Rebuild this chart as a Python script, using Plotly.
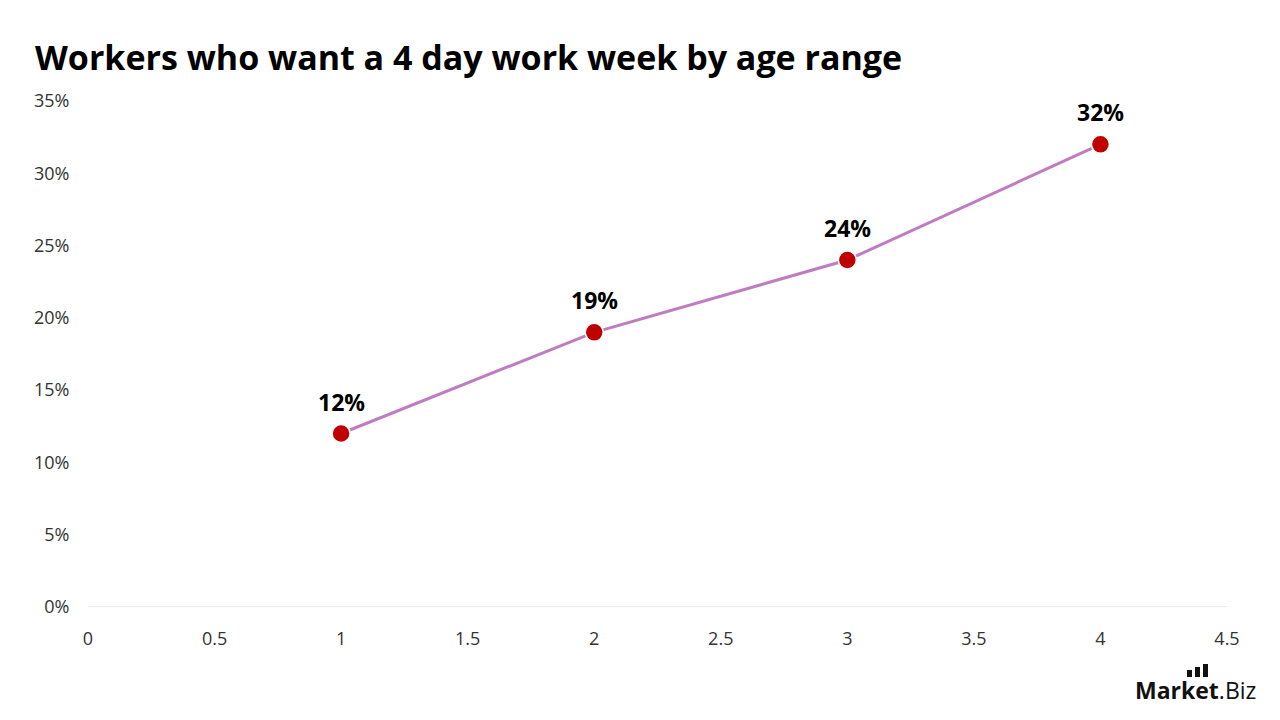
import plotly.graph_objects as go

x_vals = [1, 2, 3, 4]
y_vals = [0.12, 0.19, 0.24, 0.32]
labels = ["12%", "19%", "24%", "32%"]
title = "Workers who want a 4 day work week by age range"
x_ticks = [0, 0.5, 1, 1.5, 2, 2.5, 3, 3.5, 4, 4.5]
x_tick_text = ["0", "0.5", "1", "1.5", "2", "2.5", "3", "3.5", "4", "4.5"]
y_ticks = [0, 0.05, 0.10, 0.15, 0.20, 0.25, 0.30, 0.35]
y_tick_text = ["0%", "5%", "10%", "15%", "20%", "25%", "30%", "35%"]

FONT = "Open Sans"
W, H = 1280, 720
ML, MR, MT, MB = 88, 53, 101, 113
PW, PH = W - ML - MR, H - MT - MB

def px(xp):
    return (xp - ML) / PW

def py(yp):
    return (H - MB - yp) / PH

fig = go.Figure()
fig.add_trace(go.Scatter(
    x=x_vals, y=y_vals,
    mode="lines+markers",
    line=dict(color="#C07CC0", width=3),
    marker=dict(color="#C00000", size=18, line=dict(color="white", width=1.5)),
    hoverinfo="skip",
))
for xv, yv, lab in zip(x_vals, y_vals, labels):
    fig.add_annotation(x=xv, y=yv, text="<b>" + lab + "</b>", showarrow=False,
                       yanchor="bottom", yshift=14,
                       font=dict(family=FONT, size=23, color="#000000"))

fig.update_layout(
    width=W, height=H,
    paper_bgcolor="white", plot_bgcolor="white",
    margin=dict(l=ML, r=MR, t=MT, b=MB),
    showlegend=False,
    font=dict(family=FONT, color="#333333"),
    title=dict(text="<b>" + title + "</b>", x=35/W, xanchor="left",
               y=1 - 58/H, yanchor="middle",
               font=dict(family=FONT, size=34, color="#000000")),
    xaxis=dict(range=[0, 4.5], tickvals=x_ticks, ticktext=x_tick_text,
               showgrid=False, zeroline=False, showline=False,
               tickfont=dict(size=18, color="#333333"),
               ticks="outside", ticklen=15, tickcolor="rgba(0,0,0,0)"),
    yaxis=dict(range=[0, 0.35], tickvals=y_ticks, ticktext=y_tick_text,
               showgrid=False, zeroline=False, showline=False,
               tickfont=dict(size=18, color="#333333"),
               ticks="outside", ticklen=14, tickcolor="rgba(0,0,0,0)"),
)
# baseline
fig.add_shape(type="line", xref="paper", yref="y", x0=0, x1=1, y0=0, y1=0,
              line=dict(color="#D9D9D9", width=1))
# logo text
fig.add_annotation(xref="paper", yref="paper", x=px(1258), y=py(708),
                   xanchor="right", yanchor="bottom", showarrow=False,
                   text="<b>Market</b>.Biz", font=dict(family=FONT, size=23, color="#111111"))
# logo bars
for bx, btop in [(1187, 670), (1195, 667), (1203, 664)]:
    fig.add_shape(type="rect", xref="paper", yref="paper",
                  x0=px(bx), x1=px(bx + 5), y0=py(677), y1=py(btop),
                  fillcolor="#111111", line=dict(width=0))
fig.write_html("out.html")
